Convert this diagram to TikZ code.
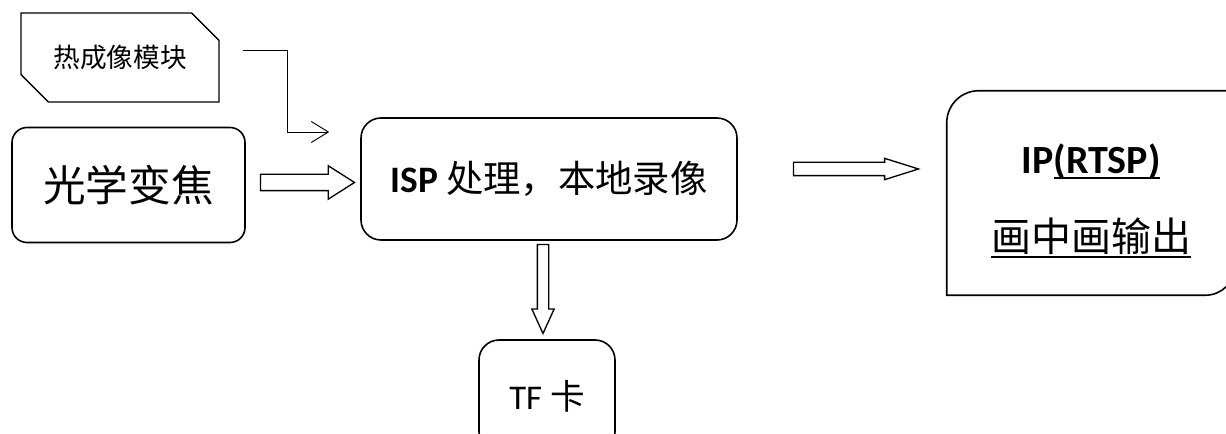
\documentclass[tikz,border=0pt]{standalone}
\usepackage{fontspec}
\setmainfont{Carlito}
\newfontfamily\cjk{Noto Sans CJK SC}
\newcommand{\ulbox}[2][5pt]{\leavevmode\setbox0\hbox{#2}\rlap{\rule[-#1]{\wd0}{1.4pt}}\box0}
\usetikzlibrary{shapes,arrows.meta,calc}
\tikzstyle{rec} = [rectangle,rounded corners=11.25pt,draw,line width=1.2pt,text centered,inner sep=0pt]
\tikzstyle{chip} = [chamfered rectangle,chamfered rectangle corners={north east,south west},chamfered rectangle xsep=11.25pt,chamfered rectangle ysep=11.25pt,draw,line width=1.1pt,inner sep=0pt]
\tikzstyle{fat} = [single arrow,draw,line width=1pt,inner xsep=0pt,single arrow head indent=0pt,anchor=tail]

\begin{document}
\begin{tikzpicture}[x=0.75pt,y=-0.75pt]
    \useasboundingbox (0,0) rectangle (1226,434);
    \clip (0,0) rectangle (1226,434);

    \node[chip,minimum width=148.5pt,minimum height=66.75pt,font=\fontsize{20}{24}\selectfont\cjk](thermal) at (120,57.5) {热成像模块};
    \node[rec,minimum width=174.75pt,minimum height=86.25pt,font=\fontsize{32}{38}\selectfont\cjk](optical) at (128.5,185) {光学变焦};
    \node[rec,rounded corners=15pt,minimum width=282pt,minimum height=91.5pt](isp) at (549,179) {\fontsize{28}{34}\selectfont\textbf{ISP} {\cjk 处理，本地录像}};
    \node[rec,rounded corners=15pt,minimum width=102pt,minimum height=84pt](tf) at (547,396) {\fontsize{26}{31}\selectfont TF {\cjk 卡}};
    \node[minimum width=216pt,minimum height=153pt,inner sep=0pt](ip) at (1091,193) {};
    \node[align=center,font=\fontsize{30}{36}\selectfont](iptext) at ([yshift=-6pt]ip.center) {\textbf{IP\ulbox[4pt]{(RTSP)}}\\[22pt]{\cjk\ulbox{画中画输出}}};

    % box with two round corners
    \draw[line width=1.2pt] (ip.south west) -- ([yshift=-24pt]ip.north west) .. controls +(0,13.25pt) and +(-13.25pt,0) .. ([xshift=24pt]ip.north west) -- (ip.north east) -- ([yshift=22.5pt]ip.south east) .. controls +(0,-12.4pt) and +(12.4pt,0) .. ([xshift=-22.5pt]ip.south east) -- cycle;

    \node[fat,inner ysep=5.625pt,minimum height=70.5pt,single arrow head extend=6.375pt,single arrow tip angle=65](a1) at ([xshift=10.5pt,yshift=1.9pt]optical.east) {};
    \node[fat,inner xsep=3.75pt,inner ysep=0pt,shape border rotate=270,minimum height=66.75pt,single arrow head extend=4.125pt,single arrow tip angle=49](a2) at ([xshift=-4.5pt,yshift=-2.25pt]isp.south) {};
    \node[fat,inner ysep=4.5pt,minimum height=93.75pt,single arrow head extend=3pt,single arrow tip angle=35](a3) at ([xshift=41.25pt,yshift=7.5pt]isp.east) {};

    \draw[line width=0.7pt,-{Straight Barb[length=12.75pt,width=15.75pt]}] ([xshift=17.25pt,yshift=5.6pt]thermal.east) -- ++(33.75pt,0) |- ([xshift=-23.25pt,yshift=35.25pt]isp.west);

\end{tikzpicture}
\end{document}
